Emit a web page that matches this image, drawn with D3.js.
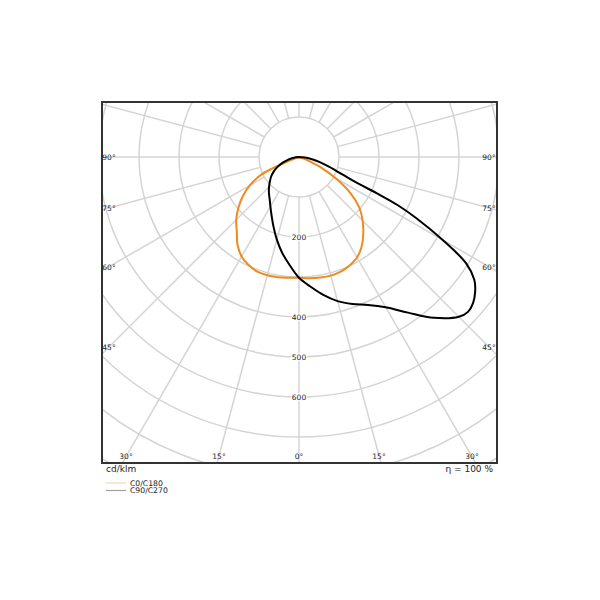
<!DOCTYPE html>
<html>
<head>
<meta charset="utf-8">
<script src="https://cdn.jsdelivr.net/npm/d3@7"></script>
<style>
  body { margin: 0; background: #fff; }
  svg { display: block; font-family: "DejaVu Sans", sans-serif; }
</style>
</head>
<body>
<svg id="chart" width="600" height="600"></svg>
<script>
// ---- data (cd/klm), angle measured from nadir (0°) ----
const anglesOrange = [0, 5, 10, 15, 20, 25, 30, 35, 40, 45, 50, 55, 60, 65, 67.5, 70, 72.5];
const valuesC0   = [302, 304, 306, 307, 305, 299, 290, 273, 250, 225, 197, 157, 105, 58, 32, 12, 0];
const valuesC180 = [302, 303, 305, 306, 305, 298, 287, 268, 242, 222, 198, 172, 142, 104, 55, 8, 0];

const anglesC90 = [0, 5, 10, 15, 20, 25, 30, 35, 40, 45, 47.5, 50, 52.5, 55, 57.5, 60, 62.5, 64, 65, 66, 68, 72, 76, 80, 85, 90];
const valuesC90 = [302, 325, 350, 373, 391, 408, 434, 475, 525, 565, 573, 568, 555, 535, 496, 415, 330, 275, 215, 155, 118, 80, 55, 35, 15, 0];

const anglesC270 = [0, 5, 10, 15, 20, 25, 30, 35, 40, 45, 50, 55, 60, 65, 70, 75, 80, 85, 90];
const valuesC270 = [302, 271, 243, 214, 186, 162, 143, 128, 117, 106, 95, 85, 73, 60, 45, 30, 18, 8, 0];

const ringValues = [100, 200, 300, 400, 500, 600, 700, 800, 900, 1000];
const ringLabels = [200, 400, 500, 600];
const spokeAngles = d3.range(0, 360, 15);
const sideLabels = [90, 75, 60, 45];
const bottomLabels = [30, 15, 0, 15, 30];
const bottomLabelAngles = [-30, -15, 0, 15, 30];
const legendItems = ["C0/C180", "C90/C270"];
const legendColors = ["#fdd6ab", "#a0a0a0"];

// ---- layout ----
const svg = d3.select("#chart");
const frame = { x: 102, y: 102, w: 395, h: 361 };
const cx = 299, cy = 157;
const r = d3.scaleLinear().domain([0, 100]).range([0, 40]);
const toA = deg => Math.PI - deg * Math.PI / 180; // d3 radial angle

svg.append("defs").append("clipPath").attr("id", "clip")
  .append("rect").attr("x", frame.x).attr("y", frame.y).attr("width", frame.w).attr("height", frame.h);

const g = svg.append("g").attr("clip-path", "url(#clip)");
const grid = g.append("g").attr("transform", `translate(${cx},${cy})`);

grid.selectAll("circle.ring").data(ringValues).enter().append("circle")
  .attr("r", d => r(d)).attr("fill", "none")
  .attr("stroke", "#d4d4d4").attr("stroke-width", 1.5);

grid.selectAll("line.spoke").data(spokeAngles).enter().append("line")
  .attr("x1", d => r(100) * Math.sin(d * Math.PI / 180))
  .attr("y1", d => r(100) * Math.cos(d * Math.PI / 180))
  .attr("x2", d => r(1200) * Math.sin(d * Math.PI / 180))
  .attr("y2", d => r(1200) * Math.cos(d * Math.PI / 180))
  .attr("stroke", "#d4d4d4").attr("stroke-width", 1.5);

// ring labels
grid.selectAll("text.rl").data(ringLabels).enter().append("text")
  .attr("x", 0).attr("y", d => r(d)).attr("dy", "0.35em")
  .attr("text-anchor", "middle").attr("font-size", 7.5).attr("fill", "#222")
  .attr("stroke", "#fff").attr("stroke-width", 2.5).attr("paint-order", "stroke")
  .text(d => d);

// curves
const radial = d3.lineRadial().curve(d3.curveCatmullRom.alpha(0.5));
function halfPts(angles, values, sign) {
  return angles.map((a, i) => [toA(sign * a), r(values[i])]);
}
function closedPts(anglesL, valuesL, anglesR, valuesR) {
  return halfPts(anglesL, valuesL, -1).reverse().concat(halfPts(anglesR, valuesR, 1).slice(1));
}
const curves = g.append("g").attr("transform", `translate(${cx},${cy})`);
curves.append("path")
  .attr("d", radial(closedPts(anglesOrange, valuesC180, anglesOrange, valuesC0)))
  .attr("fill", "none").attr("stroke", "#f08a1c").attr("stroke-width", 2);
curves.append("path")
  .attr("d", radial(closedPts(anglesC270, valuesC270, anglesC90, valuesC90)))
  .attr("fill", "none").attr("stroke", "#000").attr("stroke-width", 2);

// angle labels
const labelG = svg.append("g").attr("font-size", 7.5).attr("fill", "#222");
const sideDx = 190;
sideLabels.forEach(a => {
  const dy = sideDx / Math.tan(a * Math.PI / 180);
  [-1, 1].forEach(s => {
    labelG.append("text")
      .attr("x", Math.round(cx + s * sideDx)).attr("y", Math.round(cy + (a === 90 ? 0 : dy)) + 3)
      .attr("text-anchor", "middle")
      .text(a + "°");
  });
});
const bottomDy = 299;
bottomLabels.forEach((lab, i) => {
  const a = bottomLabelAngles[i];
  labelG.append("text")
    .attr("x", Math.round(cx + bottomDy * Math.tan(a * Math.PI / 180))).attr("y", cy + bottomDy + 3)
    .attr("text-anchor", "middle")
    .text(lab + "°");
});

// frame
svg.append("rect").attr("x", frame.x).attr("y", frame.y).attr("width", frame.w).attr("height", frame.h)
  .attr("fill", "none").attr("stroke", "#333").attr("stroke-width", 2);

// unit + efficiency
svg.append("text").attr("x", 106).attr("y", 472).attr("font-size", 9).attr("fill", "#222").text("cd/klm");
svg.append("text").attr("x", 493).attr("y", 472).attr("font-size", 9).attr("fill", "#222")
  .attr("text-anchor", "end").text("η = 100 %");

// legend
const leg = svg.append("g");
legendItems.forEach((name, i) => {
  const y = 483 + i * 7.5;
  leg.append("line").attr("x1", 106).attr("x2", 126).attr("y1", y).attr("y2", y)
    .attr("stroke", legendColors[i]).attr("stroke-width", 1.2);
  leg.append("text").attr("x", 130).attr("y", y).attr("dy", "0.35em")
    .attr("font-size", 7.7).attr("fill", "#222").text(name);
});
</script>
</body>
</html>
